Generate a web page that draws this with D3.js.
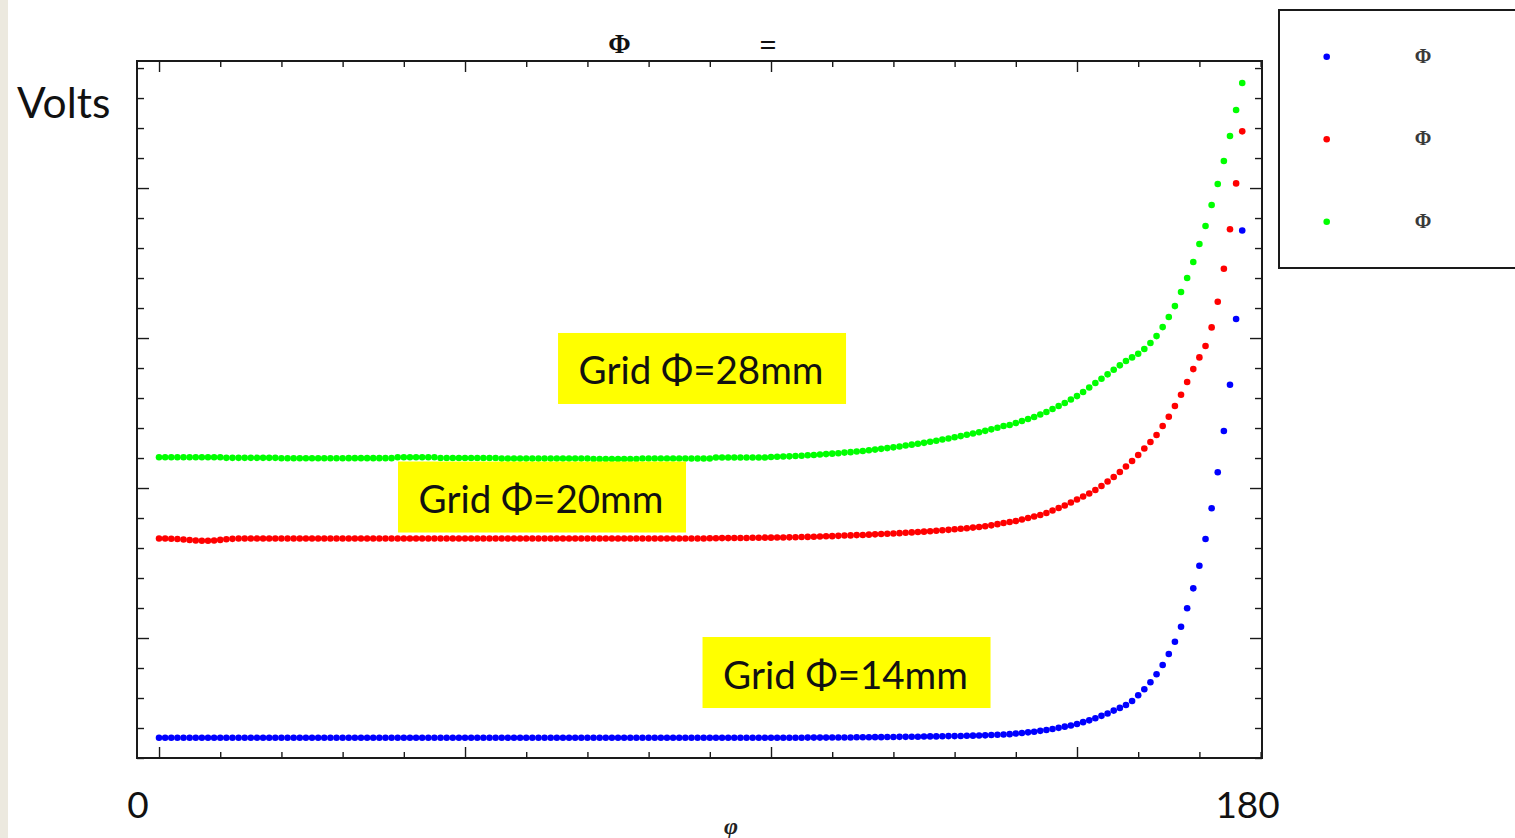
<!DOCTYPE html>
<html>
<head>
<meta charset="utf-8">
<script src="https://cdn.jsdelivr.net/npm/d3@7/dist/d3.min.js"></script>
<style>
  html, body { margin: 0; padding: 0; background: #ffffff; }
  svg { display: block; }
</style>
</head>
<body>
<svg id="chart" width="1515" height="838"></svg>
<script>
// Probe angle φ in degrees, one sample per degree
const angles = [
  0,1,2,3,4,5,6,7,8,9,
  10,11,12,13,14,15,16,17,18,19,
  20,21,22,23,24,25,26,27,28,29,
  30,31,32,33,34,35,36,37,38,39,
  40,41,42,43,44,45,46,47,48,49,
  50,51,52,53,54,55,56,57,58,59,
  60,61,62,63,64,65,66,67,68,69,
  70,71,72,73,74,75,76,77,78,79,
  80,81,82,83,84,85,86,87,88,89,
  90,91,92,93,94,95,96,97,98,99,
  100,101,102,103,104,105,106,107,108,109,
  110,111,112,113,114,115,116,117,118,119,
  120,121,122,123,124,125,126,127,128,129,
  130,131,132,133,134,135,136,137,138,139,
  140,141,142,143,144,145,146,147,148,149,
  150,151,152,153,154,155,156,157,158,159,
  160,161,162,163,164,165,166,167,168,169,
  170,171,172,173,174,175,176,177
];

// Measured voltage, grid Φ = 14 mm
const grid14 = [
  3.35,3.35,3.35,3.35,3.35,3.35,3.35,3.35,3.35,3.35,
  3.35,3.35,3.35,3.35,3.35,3.35,3.35,3.35,3.35,3.35,
  3.35,3.35,3.35,3.35,3.35,3.35,3.35,3.35,3.35,3.35,
  3.35,3.35,3.35,3.35,3.35,3.35,3.35,3.35,3.35,3.35,
  3.35,3.35,3.35,3.35,3.35,3.35,3.35,3.35,3.35,3.35,
  3.35,3.35,3.35,3.35,3.35,3.35,3.35,3.35,3.35,3.35,
  3.35,3.35,3.35,3.35,3.35,3.35,3.35,3.35,3.35,3.35,
  3.35,3.35,3.35,3.35,3.35,3.35,3.35,3.35,3.35,3.35,
  3.35,3.35,3.35,3.35,3.35,3.35,3.35,3.35,3.35,3.35,
  3.35,3.35,3.35,3.35,3.35,3.35,3.35,3.35,3.35,3.35,
  3.35,3.35,3.35,3.35,3.35,3.35,3.36,3.36,3.36,3.36,
  3.37,3.37,3.37,3.37,3.38,3.38,3.38,3.39,3.39,3.40,
  3.40,3.41,3.41,3.42,3.42,3.43,3.44,3.44,3.45,3.46,
  3.46,3.47,3.48,3.49,3.50,3.51,3.53,3.55,3.57,3.59,
  3.63,3.67,3.71,3.75,3.81,3.87,3.93,4.01,4.09,4.17,
  4.27,4.39,4.51,4.65,4.81,4.97,5.16,5.34,5.53,5.80,
  6.18,6.58,7.05,7.58,8.20,8.93,9.75,10.75,11.98,13.31,
  14.82,16.60,18.65,21.05,23.80,26.89,31.27,37.17
];

// Measured voltage, grid Φ = 20 mm
const grid20 = [
  16.63,16.63,16.62,16.60,16.57,16.53,16.50,16.48,16.48,16.50,
  16.54,16.58,16.61,16.63,16.63,16.63,16.63,16.63,16.63,16.63,
  16.63,16.63,16.63,16.63,16.63,16.63,16.63,16.63,16.63,16.63,
  16.63,16.63,16.63,16.63,16.63,16.63,16.63,16.63,16.63,16.63,
  16.63,16.63,16.63,16.63,16.63,16.63,16.63,16.63,16.63,16.63,
  16.63,16.63,16.63,16.63,16.63,16.63,16.63,16.63,16.63,16.63,
  16.63,16.63,16.63,16.63,16.63,16.63,16.63,16.63,16.63,16.63,
  16.63,16.63,16.63,16.63,16.63,16.63,16.63,16.63,16.63,16.63,
  16.63,16.63,16.63,16.63,16.63,16.63,16.63,16.63,16.63,16.63,
  16.65,16.65,16.66,16.66,16.67,16.67,16.67,16.68,16.68,16.69,
  16.69,16.70,16.70,16.71,16.72,16.73,16.74,16.75,16.77,16.78,
  16.79,16.81,16.83,16.84,16.86,16.87,16.89,16.91,16.93,16.95,
  16.97,16.99,17.02,17.04,17.07,17.09,17.12,17.15,17.18,17.21,
  17.25,17.28,17.32,17.36,17.40,17.45,17.51,17.59,17.67,17.73,
  17.80,17.90,18.00,18.10,18.20,18.33,18.50,18.67,18.83,19.03,
  19.23,19.43,19.63,19.87,20.13,20.43,20.73,21.07,21.43,21.80,
  22.20,22.63,23.07,23.53,24.13,24.75,25.47,26.22,27.07,27.93,
  28.71,29.47,30.71,32.42,34.62,37.25,40.31,43.78
];

// Measured voltage, grid Φ = 28 mm
const grid28 = [
  22.05,22.05,22.05,22.05,22.05,22.05,22.05,22.05,22.05,22.05,
  22.05,22.01,22.01,22.01,22.01,22.01,22.01,22.01,22.01,22.01,
  21.98,21.98,21.98,21.98,21.98,21.98,21.98,21.98,21.98,21.98,
  21.98,21.99,21.99,21.99,21.99,21.99,21.99,21.99,21.99,22.05,
  22.05,22.05,22.05,22.05,22.05,22.05,22.00,22.00,22.00,22.00,
  22.00,22.00,22.00,22.00,22.00,22.00,21.96,21.96,21.96,21.96,
  21.96,21.96,21.96,21.96,21.96,21.96,21.96,21.96,21.96,21.96,
  21.96,21.93,21.93,21.93,21.93,21.93,21.93,21.93,21.93,21.97,
  21.97,21.97,21.97,21.97,21.97,21.97,21.97,21.97,21.97,21.97,
  21.97,22.03,22.03,22.03,22.03,22.03,22.03,22.03,22.03,22.03,
  22.07,22.08,22.10,22.11,22.13,22.15,22.18,22.20,22.23,22.26,
  22.29,22.32,22.36,22.39,22.43,22.47,22.52,22.56,22.61,22.66,
  22.71,22.77,22.83,22.89,22.95,23.01,23.08,23.15,23.23,23.30,
  23.38,23.46,23.55,23.63,23.72,23.81,23.91,24.02,24.13,24.20,
  24.33,24.47,24.60,24.73,24.90,25.07,25.27,25.47,25.67,25.90,
  26.13,26.40,26.70,27.00,27.29,27.58,27.89,28.18,28.47,28.71,
  28.95,29.27,29.67,30.13,30.73,31.40,32.13,33.07,34.00,35.07,
  36.27,37.47,38.87,40.27,41.80,43.47,45.20,47.00
];

const seriesNames  = ["Grid Φ=14mm", "Grid Φ=20mm", "Grid Φ=28mm"];
const seriesColors = ["#0000ff", "#ff0000", "#00ff00"];
const legendLabels = ["Φ", "Φ", "Φ"];

const xTickValues = [0,10,20,30,40,50,60,70,80,90,100,110,120,130,140,150,160,170,180];
const xMajorTicks = [0,50,100,150];
const yTickValues = [2,4,6,8,10,12,14,16,18,20,22,24,26,28,30,32,34,36,38,40,42,44,46,48];
const yMajorTicks = [10,20,30,40];
const xEndLabels  = ["0", "180"];
const titleParts  = ["Φ", "="];
const yAxisTitle  = "Volts";
const xAxisTitle  = "φ";

// ---- layout ----
const svg = d3.select("#chart");
const W = 1515, H = 838;
const plot = { left: 137, right: 1262, top: 61, bottom: 758 };

const x = d3.scaleLinear().domain([-3.6, 180.23]).range([plot.left, plot.right]);
const y = d3.scaleLinear().domain([2, 48.47]).range([plot.bottom, plot.top]);

// page background with the narrow tinted strip on the left
svg.append("rect").attr("x", 0).attr("y", 0).attr("width", W).attr("height", H).attr("fill", "#ffffff");
svg.append("rect").attr("x", 0).attr("y", 0).attr("width", 8).attr("height", H).attr("fill", "#ece9df");

// ---- frame ticks (all four sides, pointing inward) ----
const tickColor = "#1a1a1a";
function styleAxis(g) {
  g.select(".domain").remove();
  g.selectAll(".tick line").attr("stroke", tickColor).attr("stroke-width", 1.4);
  g.selectAll(".tick text").remove();
}
const xMinor = xTickValues.filter(v => !xMajorTicks.includes(v));
const yMinor = yTickValues.filter(v => !yMajorTicks.includes(v));

svg.append("g").attr("transform", `translate(0,${plot.bottom})`)
  .call(d3.axisBottom(x).tickValues(xMinor).tickSize(-6).tickFormat("")).call(styleAxis);
svg.append("g").attr("transform", `translate(0,${plot.bottom})`)
  .call(d3.axisBottom(x).tickValues(xMajorTicks).tickSize(-11).tickFormat("")).call(styleAxis);
svg.append("g").attr("transform", `translate(0,${plot.top})`)
  .call(d3.axisTop(x).tickValues(xMinor).tickSize(-6).tickFormat("")).call(styleAxis);
svg.append("g").attr("transform", `translate(0,${plot.top})`)
  .call(d3.axisTop(x).tickValues(xMajorTicks).tickSize(-11).tickFormat("")).call(styleAxis);

svg.append("g").attr("transform", `translate(${plot.left},0)`)
  .call(d3.axisLeft(y).tickValues(yMinor).tickSize(-7).tickFormat("")).call(styleAxis);
svg.append("g").attr("transform", `translate(${plot.left},0)`)
  .call(d3.axisLeft(y).tickValues(yMajorTicks).tickSize(-12).tickFormat("")).call(styleAxis);
svg.append("g").attr("transform", `translate(${plot.right},0)`)
  .call(d3.axisRight(y).tickValues(yMinor).tickSize(-7).tickFormat("")).call(styleAxis);
svg.append("g").attr("transform", `translate(${plot.right},0)`)
  .call(d3.axisRight(y).tickValues(yMajorTicks).tickSize(-12).tickFormat("")).call(styleAxis);

// frame
svg.append("rect")
  .attr("x", plot.left).attr("y", plot.top)
  .attr("width", plot.right - plot.left).attr("height", plot.bottom - plot.top)
  .attr("fill", "none").attr("stroke", tickColor).attr("stroke-width", 2);

// ---- data points ----
const series = [grid14, grid20, grid28];
const dots = svg.append("g");
series.forEach((vals, i) => {
  dots.append("g")
    .selectAll("circle")
    .data(angles.map((a, k) => ({ a, v: vals[k] })))
    .join("circle")
    .attr("cx", d => x(d.a))
    .attr("cy", d => y(d.v))
    .attr("r", 3.3)
    .attr("fill", seriesColors[i]);
});

// ---- yellow callouts naming each curve ----
const callouts = [
  { name: seriesNames[2], a: 88.73, v: 27.97 },
  { name: seriesNames[1], a: 62.58, v: 19.40 },
  { name: seriesNames[0], a: 112.34, v: 7.70 }
];
const boxW = 288, boxH = 71;
const cg = svg.append("g");
callouts.forEach(c => {
  const cx = x(c.a), cy = y(c.v);
  cg.append("rect")
    .attr("x", cx - boxW / 2).attr("y", cy - boxH / 2)
    .attr("width", boxW).attr("height", boxH)
    .attr("fill", "#ffff00");
  cg.append("text")
    .attr("x", cx - 1).attr("y", cy + 16)
    .attr("text-anchor", "middle")
    .attr("font-family", "Lato, 'Open Sans', sans-serif")
    .attr("font-size", 38.5)
    .attr("fill", "#111111")
    .text(c.name);
});

// ---- titles and labels ----
svg.append("text")
  .attr("x", 17).attr("y", 118)
  .attr("font-family", "Lato, 'Open Sans', sans-serif")
  .attr("font-size", 42.5).attr("fill", "#111111")
  .text(yAxisTitle);

svg.selectAll(".endlabel")
  .data(xEndLabels)
  .join("text")
  .attr("class", "endlabel")
  .attr("x", (d, i) => i === 0 ? x(+d) - 21 : x(+d) - 13)
  .attr("y", 818)
  .attr("text-anchor", "middle")
  .attr("font-family", "Lato, 'Open Sans', sans-serif")
  .attr("font-size", 37).attr("fill", "#111111")
  .text(d => d);

svg.append("text")
  .attr("x", 731).attr("y", 834)
  .attr("text-anchor", "middle")
  .attr("font-family", "'Liberation Serif', serif")
  .attr("font-style", "italic").attr("font-weight", "bold")
  .attr("font-size", 24).attr("fill", "#222222")
  .text(xAxisTitle);

svg.append("text")
  .attr("x", 619.5).attr("y", 53)
  .attr("text-anchor", "middle")
  .attr("font-family", "'Liberation Serif', serif")
  .attr("font-weight", "bold").attr("font-size", 27).attr("fill", "#111111")
  .text(titleParts[0]);
svg.append("text")
  .attr("x", 768).attr("y", 55)
  .attr("text-anchor", "middle")
  .attr("font-family", "'Liberation Serif', serif")
  .attr("font-weight", "bold").attr("font-size", 30).attr("fill", "#111111")
  .text(titleParts[1]);

// ---- legend ----
const legend = svg.append("g");
legend.append("rect")
  .attr("x", 1279).attr("y", 10)
  .attr("width", 300).attr("height", 258)
  .attr("fill", "#ffffff").attr("stroke", tickColor).attr("stroke-width", 2);
const legendRows = [56.7, 139.3, 221.7];
legendLabels.forEach((lab, i) => {
  legend.append("circle")
    .attr("cx", 1326.7).attr("cy", legendRows[i]).attr("r", 3.3)
    .attr("fill", seriesColors[i]);
  legend.append("text")
    .attr("x", 1423).attr("y", legendRows[i] + 6)
    .attr("text-anchor", "middle")
    .attr("font-family", "'Liberation Serif', serif")
    .attr("font-weight", "bold")
    .attr("font-size", 20).attr("fill", "#3a3a3a")
    .text(lab);
});
</script>
</body>
</html>
